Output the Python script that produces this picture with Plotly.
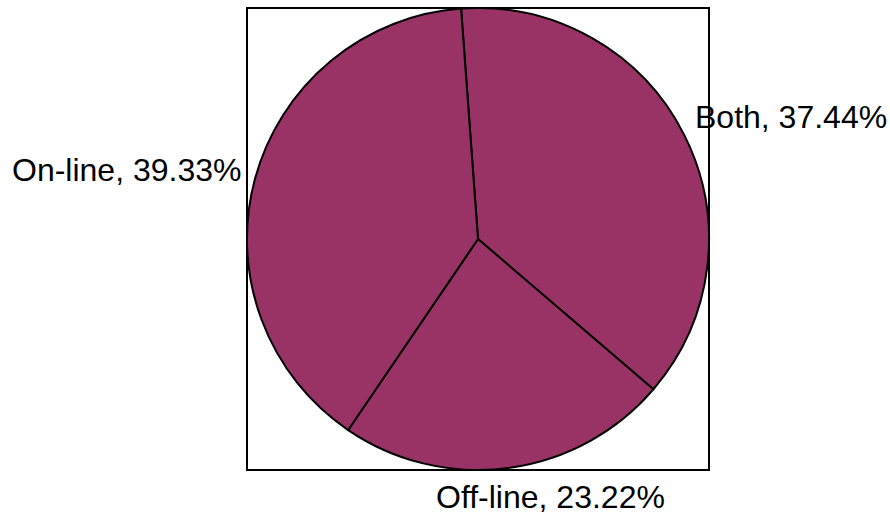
import plotly.graph_objects as go

# Purchase channel shares
labels = ["Both", "Off-line", "On-line"]
shares = [37.44, 23.22, 39.33]

slice_color = "#993366"
label_font = dict(family="Liberation Sans, Arial, sans-serif", size=32, color="black")

# Label anchor points in paper coordinates (x, y, xanchor)
label_pos = {
    "Both": (0.965, 0.765, "left"),
    "Off-line": (0.656, -0.059, "center"),
    "On-line": (-0.008, 0.650, "right"),
}

fig = go.Figure(
    go.Pie(
        labels=labels,
        values=shares,
        sort=False,
        direction="clockwise",
        rotation=-4.2,
        marker=dict(colors=[slice_color] * len(labels), line=dict(color="black", width=2)),
        textinfo="none",
        hoverinfo="label+percent",
        showlegend=False,
    )
)

total = sum(shares)
for lab, val in zip(labels, shares):
    x, y, xa = label_pos[lab]
    fig.add_annotation(
        x=x, y=y, xref="paper", yref="paper",
        xanchor=xa, yanchor="middle",
        text=f"{lab}, {100 * val / total:.2f}%",
        showarrow=False, font=label_font,
    )

# Frame around the pie domain
fig.add_shape(
    type="rect", xref="paper", yref="paper", x0=0, x1=1, y0=0, y1=1,
    line=dict(color="black", width=2), fillcolor="rgba(0,0,0,0)", layer="above",
)

fig.update_layout(
    width=890,
    height=519,
    margin=dict(l=247, r=181, t=8, b=49),
    paper_bgcolor="white",
    plot_bgcolor="white",
    font=dict(family="Liberation Sans, Arial, sans-serif", color="black"),
)

fig.write_html("out.html")
